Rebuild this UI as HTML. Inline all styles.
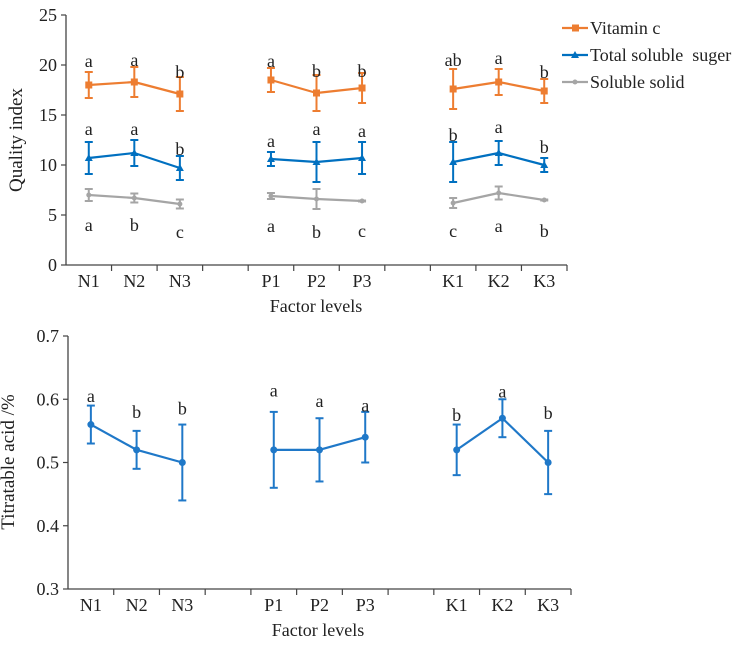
<!DOCTYPE html>
<html><head><meta charset="utf-8"><style>
body{margin:0;background:#fff;}
svg{display:block;}
svg text{font-family:"Liberation Serif","Times New Roman",serif;}
</style></head><body>
<svg id="chart" width="738" height="647" xmlns="http://www.w3.org/2000/svg" font-family="Liberation Serif, serif"></svg>
<script>
// ---- Data ----
const categories = ["N1","N2","N3","","P1","P2","P3","","K1","K2","K3"];
const vitC      = [18.0,18.3,17.1,null,18.5,17.2,17.7,null,17.6,18.3,17.4];
const vitCErr   = [1.3,1.5,1.7,null,1.2,1.8,1.5,null,2.0,1.3,1.2];
const vitCLetters = ["a","a","b","","a","b","b","","ab","a","b"];
const vitCLetterY = [20.4,20.5,19.3,null,20.4,19.4,19.4,null,20.5,20.7,19.3];
const sugar     = [10.7,11.2,9.7,null,10.6,10.3,10.7,null,10.3,11.2,10.0];
const sugarErr  = [1.6,1.3,1.2,null,0.7,2.0,1.6,null,2.0,1.2,0.7];
const sugarLetters = ["a","a","b","","a","a","a","","b","a","b"];
const sugarLetterY = [13.6,13.6,11.6,null,12.4,13.6,13.4,null,13.0,13.8,11.8];
const solid     = [7.0,6.7,6.1,null,6.9,6.6,6.4,null,6.2,7.2,6.5];
const solidErr  = [0.6,0.45,0.45,null,0.3,1.0,0.05,null,0.5,0.65,0.05];
const solidLetters = ["a","b","c","","a","b","c","","c","a","b"];
const solidLetterY = [4.0,4.0,3.3,null,3.9,3.3,3.4,null,3.4,3.9,3.4];
const topTicks = [0,5,10,15,20,25];

const acid      = [0.56,0.52,0.50,null,0.52,0.52,0.54,null,0.52,0.57,0.50];
const acidErr   = [0.03,0.03,0.06,null,0.06,0.05,0.04,null,0.04,0.03,0.05];
const acidLetters = ["a","b","b","","a","a","a","","b","a","b"];
const acidLetterY = [0.605,0.58,0.585,null,0.614,0.597,0.59,null,0.575,0.612,0.578];
const bottomTicks = [0.3,0.4,0.5,0.6,0.7];

const NS="http://www.w3.org/2000/svg";
const FF="Liberation Serif, Times New Roman, serif";
const svg=document.getElementById('chart');
function mk(tag,attrs,parent,text){const e=document.createElementNS(NS,tag);for(const k in attrs)e.setAttribute(k,attrs[k]);if(tag==='text')e.setAttribute('font-family',FF);if(text!==undefined)e.textContent=text;(parent||svg).appendChild(e);return e;}

function drawPanel(cfg){
  const g=mk('g',{});
  
  
  const x0=cfg.x0,x1=cfg.x1,yTop=cfg.yTop,yBot=cfg.yBot;
  const bw=(x1-x0)/categories.length;
  const xs=i=>x0+bw*(i+0.5);
  const ys=v=>yBot-(v-cfg.min)/(cfg.max-cfg.min)*(yBot-yTop);
  const axis=mk('g',{},g);
  
  
  mk('line',{x1:x0,y1:yTop,x2:x0,y2:yBot,stroke:'#444','stroke-width':1.3},axis);
  mk('line',{x1:x0,y1:yBot,x2:x1,y2:yBot,stroke:'#444','stroke-width':1.3},axis);
  cfg.ticks.forEach(t=>{
    mk('line',{x1:x0-5,y1:ys(t),x2:x0,y2:ys(t),stroke:'#444','stroke-width':1.2},axis);
    const tl=mk('text',{x:x0-9,y:ys(t)+6,'text-anchor':'end','font-size':18,fill:'#222'},axis,cfg.fmt(t));
    
    
  });
  for(let i=1;i<=categories.length;i++){
    mk('line',{x1:x0+bw*i,y1:yBot,x2:x0+bw*i,y2:yBot+6,stroke:'#444','stroke-width':1.2},axis);
  }
  categories.forEach((c,i)=>{ if(!c)return;
    const t=mk('text',{x:xs(i),y:yBot+22,'text-anchor':'middle','font-size':18,fill:'#222'},axis,c);
    
    
  });
  const xt=mk('text',{x:cfg.xTitleX,y:yBot+47,'text-anchor':'middle','font-size':18,fill:'#222'},axis,'Factor levels');
  
  
  const yt=mk('text',{x:0,y:0,'text-anchor':'middle','font-size':19,fill:'#222',transform:`translate(${cfg.yTitleX},${cfg.yTitleY}) rotate(-90)`},axis,cfg.yTitle);
  
  

  cfg.series.forEach(s=>{
    const sg=mk('g',{},g);
    
    
    for(let i=0;i<s.vals.length-1;i++){
      if(s.vals[i]==null||s.vals[i+1]==null)continue;
      mk('line',{x1:xs(i),y1:ys(s.vals[i]),x2:xs(i+1),y2:ys(s.vals[i+1]),stroke:s.color,'stroke-width':2.2},sg);
    }
    s.vals.forEach((v,i)=>{ if(v==null)return;
      const e=s.err[i],x=xs(i);
      const eb=mk('g',{},sg);
      
      
      mk('line',{x1:x,y1:ys(v+e),x2:x,y2:ys(v-e),stroke:s.color,'stroke-width':2},eb);
      mk('line',{x1:x-4,y1:ys(v+e),x2:x+4,y2:ys(v+e),stroke:s.color,'stroke-width':2},eb);
      mk('line',{x1:x-4,y1:ys(v-e),x2:x+4,y2:ys(v-e),stroke:s.color,'stroke-width':2},eb);
      let m;
      if(s.marker==='square') m=mk('rect',{x:x-3.5,y:ys(v)-3.5,width:7,height:7,fill:s.color},sg);
      else if(s.marker==='tri') m=mk('polygon',{points:`${x},${ys(v)-4} ${x-4},${ys(v)+3} ${x+4},${ys(v)+3}`,fill:s.color},sg);
      else m=mk('circle',{cx:x,cy:ys(v),r:s.r||3,fill:s.color},sg);
      
      
      const lt=mk('text',{x:x,y:ys(s.ly[i])+6,'text-anchor':'middle','font-size':18,fill:'#222'},sg,s.letters[i]);
      
      
    });
  });
}

drawPanel({name:'quality-index-chart',x0:66,x1:567,yTop:15,yBot:265,min:0,max:25,ticks:topTicks,fmt:t=>String(t),
  xTitleX:316,yTitleX:22,yTitleY:140,yTitle:'Quality index',
  series:[
    {name:'vitamin-c-series',vals:vitC,err:vitCErr,letters:vitCLetters,ly:vitCLetterY,color:'#ED7D31',marker:'square'},
    {name:'total-soluble-sugar-series',vals:sugar,err:sugarErr,letters:sugarLetters,ly:sugarLetterY,color:'#0070C0',marker:'tri'},
    {name:'soluble-solid-series',vals:solid,err:solidErr,letters:solidLetters,ly:solidLetterY,color:'#A5A5A5',marker:'circle',r:2.5}
  ]});
drawPanel({name:'titratable-acid-chart',x0:68,x1:571,yTop:336,yBot:589,min:0.3,max:0.7,ticks:bottomTicks,fmt:t=>t.toFixed(1),
  xTitleX:318,yTitleX:14,yTitleY:462,yTitle:'Titratable acid /%',
  series:[
    {name:'titratable-acid-series',vals:acid,err:acidErr,letters:acidLetters,ly:acidLetterY,color:'#1F78C8',marker:'circle',r:3.5}
  ]});

const leg=mk('g',{});


const legItems=[['Vitamin c','#ED7D31','square',28],['Total soluble  suger','#0070C0','tri',55],['Soluble solid','#A5A5A5','circle',82]];
legItems.forEach(([t,c,m,y])=>{
  const it=mk('g',{},leg);
  
  
  mk('line',{x1:562,y1:y,x2:588,y2:y,stroke:c,'stroke-width':2.2},it);
  if(m==='square')mk('rect',{x:572,y:y-3.5,width:7,height:7,fill:c},it);
  else if(m==='tri')mk('polygon',{points:`575,${y-4} 571,${y+3} 579,${y+3}`,fill:c},it);
  else mk('circle',{cx:575,cy:y,r:2.5,fill:c},it);
  mk('text',{x:590,y:y+6,'font-size':18,fill:'#222'},it,t).style.whiteSpace='pre';
});
</script>
</body></html>
